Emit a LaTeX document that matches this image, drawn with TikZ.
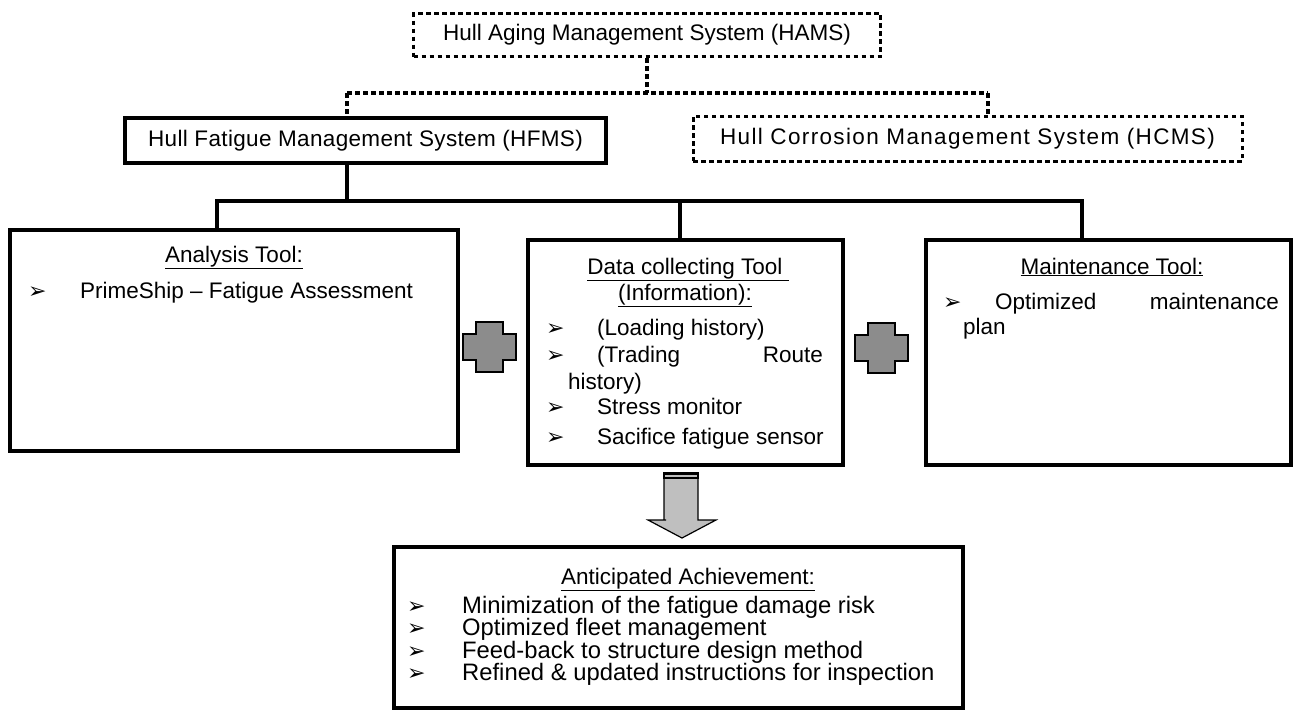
\documentclass[tikz,border=0pt]{standalone}
\usepackage{fontspec}
\setmainfont{Liberation Sans}
\newfontfamily\symfont{DejaVu Sans}
\newcommand{\bul}{{\symfont\fontsize{22}{22}\selectfont ➢}}

\begin{document}
\begin{tikzpicture}[x=1pt,y=-1pt,
  every node/.style={font=\fontsize{22.5}{27}\selectfont, inner sep=0pt},
  box/.style={draw, line width=4.5pt, fill=white},
  dotbox/.style={draw, line width=3.5pt, dash pattern=on 4.5pt off 3.5pt},
  solidline/.style={line width=4.5pt, line join=miter},
  dotline/.style={line width=3.5pt, dash pattern=on 4.5pt off 3.5pt},
  txt/.style={anchor=base west},
  ttl/.style={anchor=base},
  goaltxt/.style={anchor=base west, font=\fontsize{23.8}{28}\selectfont},
  plus/.style={draw, line width=1.2pt, fill=black!45},
  blockarrow/.style={draw, line width=1.2pt, fill=black!25},
]
\useasboundingbox (0,0) rectangle (1299,715);

\node[dotbox, minimum width=467pt, minimum height=43pt] (hams) at (647,35) {Hull Aging Management System (HAMS)};
\node[box, minimum width=481pt, minimum height=45pt] (hfms) at (365.5,140.5) {\addfontfeature{LetterSpace=1.5}Hull Fatigue Management System (HFMS)};
\node[dotbox, line width=3pt, minimum width=549pt, minimum height=45pt] (hcms) at (967.5,138.5) {\addfontfeature{LetterSpace=6}Hull Corrosion Management System (HCMS)};

\node[box, minimum width=448pt, minimum height=221pt] (analysis) at (234,340.5) {};
\node[box, minimum width=315pt, minimum height=225pt] (data) at (685.5,352.5) {};
\node[box, minimum width=365pt, minimum height=225pt] (maint) at (1108.5,352.5) {};
\node[box, minimum width=569pt, minimum height=161pt] (goal) at (678.5,627.5) {};

\coordinate (hamsdown) at (647,93);
\coordinate (hleft) at (347,93);
\coordinate (hright) at (988,93);
\coordinate (fork) at (347,201);
\coordinate (forkL) at (217,201);
\coordinate (forkM) at (680,201);
\coordinate (forkR) at (1082,201);

\draw[dotline] (hams.south) -- (hamsdown);
\draw[dotline] (hleft) -- (hright);
\draw[dotline] (hleft) -- (hleft |- hfms.north);
\draw[dotline] (hright) -- (hright |- hcms.north);

\draw[solidline] (fork |- hfms.south) -- (fork);
\draw[solidline] (forkL |- analysis.north) -- (forkL) -- (forkR) -- (forkR |- maint.north);
\draw[solidline] (forkM) -- (forkM |- data.north);

% analysis tool
\node[ttl] (antitle) at (234,262) {\underline{Analysis Tool:}};
\node[txt] (anb1) at (28,298) {\bul};
\node[txt] (ant1) at (80,298) {PrimeShip – Fatigue Assessment};

% data collecting tool
\node[ttl] (datitle) at (688,274) {\underline{Data collecting Tool }};
\node[ttl] (datitleb) at (685,300) {\underline{(Information):}};
\foreach \y in {335,362,414,444}
  \node[txt] at (546,\y) {\bul};
\node[txt] (dat1) at (597,335) {(Loading history)};
\node[txt] (dat2) at (597,362) {(Trading};
\node[anchor=base east] (dat2b) at (823,362) {Route};
\node[txt] (dat2c) at (568,389) {history)};
\node[txt] (dat3) at (597,414) {Stress monitor};
\node[txt] (dat4) at (597,444) {Sacifice fatigue sensor};

% maintenance tool
\node[ttl] (mttitle) at (1112,274) {\underline{Maintenance Tool:}};
\node[txt] (mtb1) at (943,309) {\bul};
\node[txt] (mt1) at (995,309) {Optimized};
\node[anchor=base east] (mt1b) at (1279,309) {maintenance};
\node[txt] (mt1c) at (963,334) {plan};

% anticipated achievement
\node[ttl] (gltitle) at (688,584) {\underline{Anticipated Achievement:}};
\foreach \y in {613,635,658,680}
  \node[txt] at (407,\y) {\bul};
\node[goaltxt] (gl1) at (462,613) {Minimization of the fatigue damage risk};
\node[goaltxt] (gl2) at (462,635) {Optimized fleet management};
\node[goaltxt] (gl3) at (462,658) {Feed-back to structure design method};
\node[goaltxt] (gl4) at (462,680) {Refined \& updated instructions for inspection};

% plus signs between the tools
\foreach \cx/\cy in {489.5/347, 881.5/348}
  \draw[plus] (\cx-13.5,\cy-25) -- (\cx+13.5,\cy-25) -- (\cx+13.5,\cy-13) -- (\cx+26.5,\cy-13)
    -- (\cx+26.5,\cy+13) -- (\cx+13.5,\cy+13) -- (\cx+13.5,\cy+25) -- (\cx-13.5,\cy+25)
    -- (\cx-13.5,\cy+13) -- (\cx-26.5,\cy+13) -- (\cx-26.5,\cy-13) -- (\cx-13.5,\cy-13) -- cycle;

% block arrow down to the achievements
\draw[blockarrow] (664,473) -- (698,473) -- (698,520) -- (716,520) -- (682,538)
  -- (648,520) -- (666,520) -- (664,520) -- cycle;
\fill (663,472) rectangle (699,479);
\draw[black!25, line width=1.2pt] (665,476) -- (697,476);
\end{tikzpicture}
\end{document}
